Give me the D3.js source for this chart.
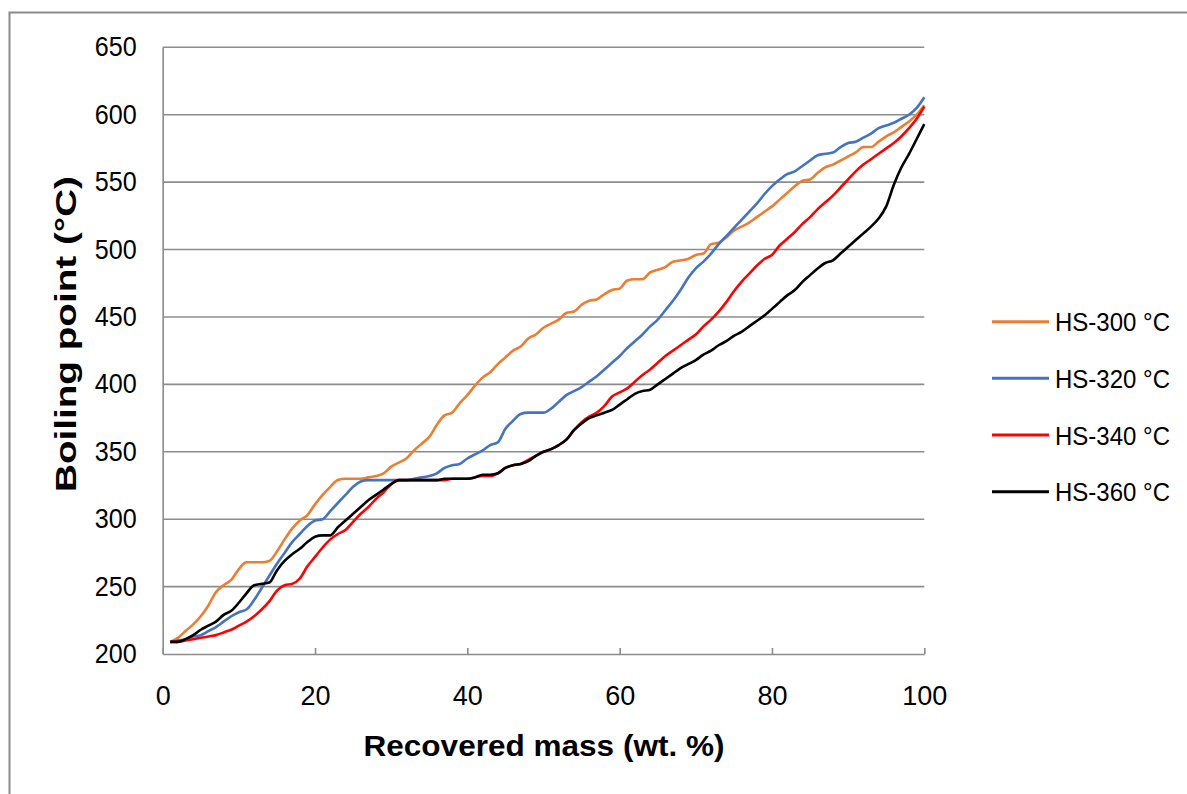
<!DOCTYPE html>
<html>
<head>
<meta charset="utf-8">
<script src="https://cdn.jsdelivr.net/npm/d3@7"></script>
<style>
  html, body { margin: 0; padding: 0; background: #ffffff; }
  svg { display: block; }
</style>
</head>
<body>
<svg id="chart" width="1187" height="794"></svg>
<script>
// Recovered mass (wt. %) sampled at each percent
const mass = [
  1, 2, 3, 4, 5, 6, 7, 8, 9, 10, 11, 12, 13, 14, 15, 16, 17, 18, 19, 20,
  21, 22, 23, 24, 25, 26, 27, 28, 29, 30, 31, 32, 33, 34, 35, 36, 37, 38, 39, 40,
  41, 42, 43, 44, 45, 46, 47, 48, 49, 50, 51, 52, 53, 54, 55, 56, 57, 58, 59, 60,
  61, 62, 63, 64, 65, 66, 67, 68, 69, 70, 71, 72, 73, 74, 75, 76, 77, 78, 79, 80,
  81, 82, 83, 84, 85, 86, 87, 88, 89, 90, 91, 92, 93, 94, 95, 96, 97, 98, 99, 100
];

// Boiling point (°C) for each sample
const hs300 = [
  209, 212, 217, 222, 228, 236, 246, 251, 255, 263, 268, 268, 268, 269, 276, 285, 293, 299, 303, 311,
  318, 324, 329, 330, 330, 330, 331, 332, 334, 339, 342, 345, 351, 356, 361, 370, 377, 379, 386, 392,
  399, 405, 409, 415, 420, 425, 428, 434, 437, 442, 445, 448, 453, 454, 459, 462, 463, 467, 470, 471,
  477, 478, 478, 483, 485, 487, 491, 492, 493, 496, 497, 504, 505, 509, 514, 517, 520, 524, 528, 532,
  537, 542, 547, 551, 552, 557, 561, 563, 566, 569, 572, 576, 576, 580, 584, 587, 591, 595, 600, 607
];
const hs320 = [
  209, 210, 211, 213, 214, 217, 220, 224, 228, 231, 233, 240, 249, 258, 267, 275, 283, 289, 295, 299,
  300, 306, 312, 318, 324, 328, 329, 329, 329, 329, 329, 329, 330, 331, 332, 334, 338, 340, 341, 345,
  348, 351, 355, 357, 367, 373, 378, 379, 379, 379, 382, 387, 392, 395, 398, 402, 406, 411, 416, 421,
  427, 432, 437, 443, 448, 455, 462, 470, 479, 486, 491, 497, 504, 510, 516, 522, 528, 534, 541, 547,
  552, 556, 558, 562, 566, 570, 571, 572, 576, 579, 580, 583, 586, 590, 592, 594, 597, 600, 605, 613
];
const hs340 = [
  209, 209, 210, 211, 212, 213, 214, 216, 218, 221, 224, 228, 233, 239, 247, 251, 252, 256, 265, 272,
  279, 285, 289, 292, 298, 304, 309, 315, 320, 326, 329, 329, 329, 329, 329, 329, 329, 330, 330, 330,
  331, 332, 332, 334, 338, 340, 341, 344, 347, 350, 352, 355, 359, 366, 372, 376, 379, 384, 391, 394,
  397, 402, 407, 411, 416, 421, 425, 429, 433, 437, 443, 448, 454, 461, 469, 476, 482, 488, 493, 496,
  503, 508, 513, 519, 524, 530, 535, 540, 546, 552, 558, 563, 567, 571, 575, 579, 584, 590, 597, 606
];
const hs360 = [
  209, 209, 211, 214, 218, 221, 224, 229, 232, 238, 245, 251, 252, 253, 262, 269, 274, 278, 283, 287,
  288, 288, 294, 299, 304, 309, 314, 318, 322, 326, 329, 329, 329, 329, 329, 329, 330, 330, 330, 330,
  331, 333, 333, 334, 338, 340, 341, 343, 347, 350, 352, 355, 359, 366, 371, 375, 377, 379, 381, 385,
  389, 393, 395, 396, 400, 404, 408, 412, 415, 418, 422, 425, 429, 432, 436, 439, 443, 447, 451, 456,
  461, 466, 470, 476, 481, 486, 490, 492, 497, 502, 507, 512, 517, 523, 532, 548, 561, 571, 582, 593
];

const seriesNames = ["HS-300 °C", "HS-320 °C", "HS-340 °C", "HS-360 °C"];
const seriesValues = [hs300, hs320, hs340, hs360];
const seriesColors = ["#ED7D31", "#4472C4", "#FF0000", "#000000"];

const xTicks = [0, 20, 40, 60, 80, 100];
const yTicks = [200, 250, 300, 350, 400, 450, 500, 550, 600, 650];

const svg = d3.select("#chart");
const font = "'Liberation Sans', Arial, sans-serif";

// outer chart frame
svg.append("rect")
  .attr("x", 9.5).attr("y", 12.5)
  .attr("width", 1400).attr("height", 1000)
  .attr("fill", "none")
  .attr("stroke", "#8a8a8a")
  .attr("stroke-width", 2);

const plot = { left: 162.7, right: 924.3, top: 47.3, bottom: 654 };

const x = d3.scaleLinear().domain([0, 100]).range([plot.left, plot.right]);
const y = d3.scaleLinear().domain([200, 650]).range([plot.bottom, plot.top]);

// horizontal gridlines
svg.append("g")
  .selectAll("line")
  .data(yTicks.filter(t => t !== 200))
  .join("line")
  .attr("x1", plot.left).attr("x2", plot.right)
  .attr("y1", d => y(d)).attr("y2", d => y(d))
  .attr("stroke", "#8c8c8c")
  .attr("stroke-width", 1.6);

// y axis: line only, labels on the left
const yAxis = d3.axisLeft(y).tickValues(yTicks).tickSize(0).tickPadding(26);
const gy = svg.append("g").attr("transform", `translate(${plot.left},0)`).call(yAxis);
gy.select(".domain").attr("stroke", "#8c8c8c").attr("stroke-width", 1.6);
gy.selectAll("text")
  .attr("font-family", font).attr("font-size", 26).attr("fill", "#000")
  .attr("textLength", 42).attr("lengthAdjust", "spacingAndGlyphs")
  .attr("font-size", 27);

// x axis: inward ticks, labels below
const xAxis = d3.axisBottom(x).tickValues(xTicks).tickSizeInner(-6).tickSizeOuter(0).tickPadding(32);
const gx = svg.append("g").attr("transform", `translate(0,${plot.bottom})`).call(xAxis);
gx.select(".domain").attr("stroke", "#8c8c8c").attr("stroke-width", 1.6);
gx.selectAll(".tick line").attr("stroke", "#8c8c8c").attr("stroke-width", 1.6);
gx.selectAll("text")
  .attr("font-family", font).attr("font-size", 27).attr("fill", "#000");

// curves
const line = d3.line()
  .x(d => x(d[0]))
  .y(d => y(d[1]))
  .curve(d3.curveMonotoneX);

seriesValues.forEach((vals, i) => {
  svg.append("path")
    .datum(mass.map((m, k) => [m, vals[k]]))
    .attr("fill", "none")
    .attr("stroke", seriesColors[i])
    .attr("stroke-width", 2.6)
    .attr("stroke-linejoin", "round")
    .attr("d", line);
});

// axis titles
svg.append("text")
  .attr("x", 544).attr("y", 756)
  .attr("text-anchor", "middle")
  .attr("font-family", font).attr("font-weight", "bold").attr("font-size", 30)
  .attr("textLength", 361).attr("lengthAdjust", "spacingAndGlyphs")
  .text("Recovered mass (wt. %)");

svg.append("text")
  .attr("transform", "translate(76,334) rotate(-90)")
  .attr("text-anchor", "middle")
  .attr("font-family", font).attr("font-weight", "bold").attr("font-size", 30)
  .attr("textLength", 316).attr("lengthAdjust", "spacingAndGlyphs")
  .text("Boiling point (°C)");

// legend
const legend = svg.append("g");
const legendY = d3.scalePoint().domain(seriesNames).range([321.7, 491.7]);
seriesNames.forEach((name, i) => {
  const ly = legendY(name);
  legend.append("line")
    .attr("x1", 992).attr("x2", 1049)
    .attr("y1", ly).attr("y2", ly)
    .attr("stroke", seriesColors[i])
    .attr("stroke-width", 3);
  legend.append("text")
    .attr("x", 1055).attr("y", ly + 9.5)
    .attr("font-family", font).attr("font-size", 26)
    .attr("textLength", 115).attr("lengthAdjust", "spacingAndGlyphs")
    .text(name);
});
</script>
</body>
</html>
